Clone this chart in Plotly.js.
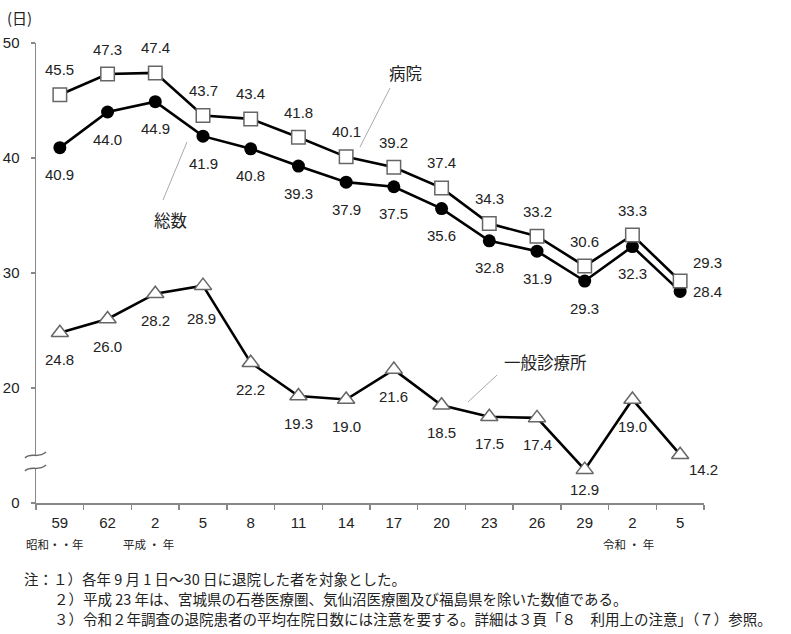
<!DOCTYPE html>
<html><head><meta charset="utf-8">
<script src="https://cdn.plot.ly/plotly-3.0.1.min.js"></script>
<style>html,body{margin:0;padding:0;background:#fff}#chart{width:791px;height:634px}</style>
</head><body><div id="chart"></div>
<script>
// ---- data ----
const yearLabels = ['59','62','2','5','8','11','14','17','20','23','26','29','2','5'];
const eraLabels = ['昭和・・年','平成 ・ 年','令和 ・ 年'];
const hospital = [45.5,47.3,47.4,43.7,43.4,41.8,40.1,39.2,37.4,34.3,33.2,30.6,33.3,29.3];
const total    = [40.9,44.0,44.9,41.9,40.8,39.3,37.9,37.5,35.6,32.8,31.9,29.3,32.3,28.4];
const clinic   = [24.8,26.0,28.2,28.9,22.2,19.3,19.0,21.6,18.5,17.5,17.4,12.9,19.0,14.2];
const seriesNames = ['病院','総数','一般診療所'];
const yTickVals = [10,20,30,40,50];
const yTickText = ['0','20','30','40','50'];
const unitLabel = '(日)';
const notes = [
  '注：１）各年 9 月 1 日～30 日に退院した者を対象とした。',
  '２）平成 23 年は、宮城県の石巻医療圏、気仙沼医療圏及び福島県を除いた数値である。',
  '３）令和２年調査の退院患者の平均在院日数には注意を要する。詳細は３頁「８　利用上の注意」（７）参照。'
];

// ---- layout helpers (pixel -> paper) ----
const W = 791, H = 634, L = 36, R = 704, T = 43, B = 503;
const px = x => (x - L) / (R - L);
const py = y => (B - y) / (B - T);

const x = yearLabels.map((_, i) => i);
const NUMF = 'Liberation Sans, Arial, Noto Sans CJK JP, sans-serif';
const JPF = 'Noto Sans CJK JP, sans-serif';
const TXT = '#222';

const traces = [
  {x: x, y: clinic, mode: 'lines+markers', name: seriesNames[2],
   line: {color: '#000', width: 2.6},
   marker: {symbol: 'triangle-up', size: 15, color: '#fff', line: {color: '#666', width: 1.5}}},
  {x: x, y: total, mode: 'lines+markers', name: seriesNames[1],
   line: {color: '#000', width: 2.6},
   marker: {symbol: 'circle', size: 13, color: '#000', line: {color: '#000', width: 0}}},
  {x: x, y: hospital, mode: 'lines+markers', name: seriesNames[0],
   line: {color: '#000', width: 2.6},
   marker: {symbol: 'square', size: 13.5, color: '#fff', line: {color: '#666', width: 1.5}}}
];

const ann = [];
function lab(xi, yv, xs, ys) {
  ann.push({x: xi, y: yv, xref: 'x', yref: 'y', text: yv.toFixed(1), showarrow: false,
            xanchor: 'center', yanchor: 'middle',
            xshift: xs, yshift: ys, font: {family: NUMF, size: 15, color: TXT}});
}
const n = x.length;
hospital.forEach((v, i) => { if (i === n - 1) lab(i, v, 27, 19); else lab(i, v, 0, 25); });
total.forEach((v, i) => { if (i === n - 1) lab(i, v, 27, 0); else lab(i, v, 0, -27); });
clinic.forEach((v, i) => {
  if (i === n - 1) lab(i, v, 23, -15);
  else if (i === 11) lab(i, v, 0, -20);
  else if (i === 3) lab(i, v, -2, -33);
  else lab(i, v, 0, -27);
});

function pann(text, X, Y, font, xa) {
  ann.push({x: px(X), y: py(Y), xref: 'paper', yref: 'paper', text: text, showarrow: false,
    xanchor: xa || 'center', yanchor: 'middle', font: font});
}

// series names
const namePos = [[405, 73], [170, 220], [545, 362]];
seriesNames.forEach((s, k) => pann(s, namePos[k][0], namePos[k][1], {family: JPF, size: 16.5, color: TXT}));

// unit
pann(unitLabel, 19, 18, {family: JPF, size: 15, color: TXT});

// era labels
const eraPos = [55, 148, 628];
eraLabels.forEach((s, k) => pann(s, eraPos[k], 544, {family: JPF, size: 11.5, color: TXT}));

// notes
const notePos = [[22, 578], [52, 598], [52, 618]];
notes.forEach((s, k) => pann(s, notePos[k][0], notePos[k][1], {family: JPF, size: 14.5, color: TXT}, 'left'));

// shapes: leader lines + axis break
const P = (a, b) => px(a).toFixed(5) + ',' + py(b).toFixed(5);
const shapes = [];
[[390, 88, 360, 147], [187, 142, 163, 200], [497, 375, 468, 402]].forEach(s => shapes.push({
  type: 'line', xref: 'paper', yref: 'paper', x0: px(s[0]), y0: py(s[1]), x1: px(s[2]), y1: py(s[3]),
  line: {color: '#aaa', width: 1}}));
shapes.push({type: 'rect', xref: 'paper', yref: 'paper', layer: 'above',
  x0: px(30), x1: px(42), y0: py(468), y1: py(455), fillcolor: '#fff', line: {width: 0}});
shapes.push({type: 'path', xref: 'paper', yref: 'paper', layer: 'above',
  path: 'M' + P(25, 458) + ' C' + P(31, 452) + ' ' + P(38, 459) + ' ' + P(46, 452),
  line: {color: '#666', width: 1.5}});
shapes.push({type: 'path', xref: 'paper', yref: 'paper', layer: 'above',
  path: 'M' + P(25, 471) + ' C' + P(31, 465) + ' ' + P(38, 472) + ' ' + P(46, 465),
  line: {color: '#666', width: 1.5}});

const bounds = x.map(i => i - 0.5).concat([n - 0.5]);

const layout = {
  width: W, height: H,
  margin: {l: L, r: W - R, t: T, b: H - B, pad: 0},
  paper_bgcolor: '#fff', plot_bgcolor: '#fff',
  showlegend: false,
  xaxis: {range: [-0.5, n - 0.5], tickmode: 'array', tickvals: x, ticktext: yearLabels,
    ticks: '', showline: true, linecolor: '#888', linewidth: 1.5, showgrid: false, zeroline: false,
    tickfont: {family: NUMF, size: 15, color: TXT}, ticklabelstandoff: 5,
    minor: {tickmode: 'array', tickvals: bounds, ticks: 'outside', ticklen: 5, tickwidth: 1.5, tickcolor: '#888', showgrid: false},
    fixedrange: true},
  yaxis: {range: [10, 50], tickmode: 'array', tickvals: yTickVals, ticktext: yTickText,
    ticks: 'outside', ticklen: 4, tickwidth: 1.5, tickcolor: '#888',
    showline: true, linecolor: '#888', linewidth: 1.5, showgrid: false, zeroline: false,
    tickfont: {family: NUMF, size: 15, color: TXT}, ticklabelstandoff: 8, fixedrange: true},
  annotations: ann,
  shapes: shapes
};

Plotly.newPlot('chart', traces, layout, {displayModeBar: false, staticPlot: true});
</script></body></html>
